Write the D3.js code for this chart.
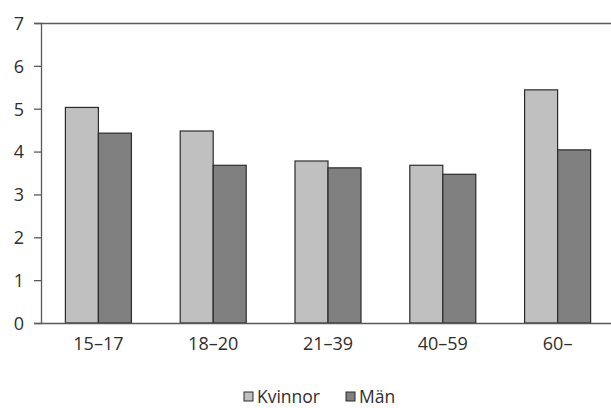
<!DOCTYPE html>
<html><head><meta charset="utf-8">
<script src="https://cdn.jsdelivr.net/npm/d3@7"></script>
<style>body{margin:0;background:#fff}svg{display:block}text{font-family:"Open Sans",sans-serif;fill:#2e2e2e}</style>
</head><body>
<script>
const categories = ["15–17","18–20","21–39","40–59","60–"];
const seriesNames = ["Kvinnor","Män"];
const kvinnor = [5.03, 4.48, 3.78, 3.68, 5.44];
const man = [4.43, 3.68, 3.62, 3.47, 4.04];
const yTicks = [0,1,2,3,4,5,6,7];
const colors = ["#c0c0c0","#808080"];

(function(){
const W=611,H=408;
const svg=d3.select("body").append("svg").attr("width",W).attr("height",H);
const mLeft=41,mRight=615,mTop=23,mBottom=323;
const y=d3.scaleLinear().domain([0,7]).range([mBottom,mTop]);
const x0=d3.scaleBand().domain(categories).range([mLeft,mRight]).padding(0);
const x1=d3.scaleBand().domain(seriesNames).range([x0.step()*0.2125,x0.step()*0.7875]).padding(0);
const data=categories.map((c,i)=>({cat:c,vals:[kvinnor[i],man[i]]}));

// top border line
svg.append("line").attr("x1",mLeft).attr("x2",W).attr("y1",y(7)+0.5).attr("y2",y(7)+0.5).attr("stroke","#595959").attr("stroke-width",1.3);

const g=svg.selectAll("g.grp").data(data).join("g").attr("class","grp").attr("transform",d=>`translate(${x0(d.cat)},0)`);
g.selectAll("rect").data(d=>d.vals.map((v,i)=>({s:seriesNames[i],v,i}))).join("rect")
 .attr("x",d=>x1(d.s)).attr("width",x1.bandwidth())
 .attr("y",d=>y(d.v)).attr("height",d=>y(0)-y(d.v))
 .attr("fill",d=>colors[d.i]).attr("stroke","#2b2b2b").attr("stroke-width",1.2);

// y axis
const ya=svg.append("g").attr("transform",`translate(${mLeft},0)`)
 .call(d3.axisLeft(y).tickValues(yTicks).tickSize(7).tickPadding(10).tickFormat(d3.format("d")));
ya.select(".domain").attr("stroke","#595959").attr("stroke-width",1.3);
ya.selectAll(".tick line").attr("stroke","#595959").attr("stroke-width",1.3);
ya.selectAll(".tick text").style("font-size","18px").attr("fill","#2e2e2e").attr("dy","0.35em");

// x axis
const xa=svg.append("g").attr("transform",`translate(0,${mBottom})`)
 .call(d3.axisBottom(x0).tickSize(0).tickPadding(14));
xa.select(".domain").attr("d",`M${mLeft},0.5H${W}`).attr("stroke","#595959").attr("stroke-width",1.3);
xa.selectAll(".tick text").style("font-size","18px").attr("fill","#2e2e2e").attr("dy","0.71em");

// legend
const leg=svg.append("g");
const legX=[244,346];
seriesNames.forEach((s,i)=>{
  leg.append("rect").attr("x",legX[i]).attr("y",392).attr("width",9).attr("height",9)
    .attr("fill",colors[i]).attr("stroke","#2b2b2b").attr("stroke-width",1);
  leg.append("text").attr("x",legX[i]+13).attr("y",403).style("font-size","17.5px").text(s);
});
})();
</script>
</body></html>
